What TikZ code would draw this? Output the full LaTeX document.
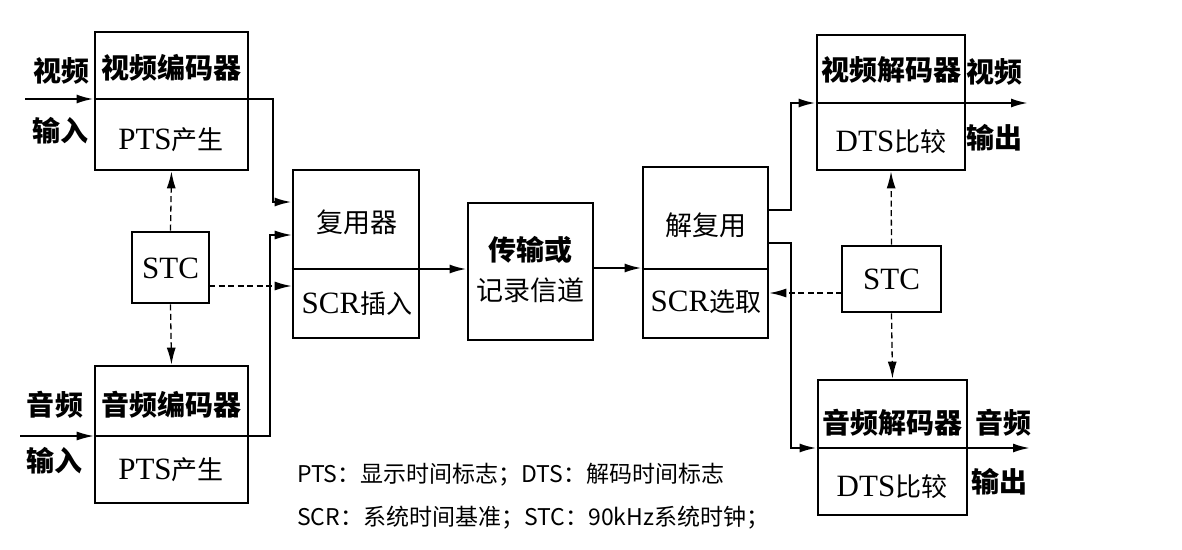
\documentclass[tikz,border=0pt]{standalone}
\usepackage{fontspec}
\setmainfont{Liberation Serif}
\newfontfamily\cjk{Noto Sans CJK SC}
\newfontfamily\lat{Liberation Serif}
\usetikzlibrary{arrows.meta}
\newcommand{\Lt}[1]{{\lat\fontsize{31}{31}\selectfont #1}}
\newcommand{\Ch}[1]{{\cjk\fontsize{26}{26}\selectfont #1}}
\begin{document}
\begin{tikzpicture}[x=1pt,y=-1pt,
  box/.style={draw,line width=2.8pt,inner sep=0pt},
  blbl/.style={font=\cjk\bfseries\fontsize{28}{30}\selectfont,inner sep=0pt},
  rlbl/.style={font=\cjk\fontsize{27}{30}\selectfont,inner sep=0pt},
  mlbl/.style={inner sep=0pt},
  arr/.style={line width=2.2pt,-{Latex[length=17pt,width=9pt]}},
  tarr/.style={line width=1.2pt,-{Latex[length=17pt,width=9pt]}},
  divline/.style={line width=2.2pt},
  dline/.style={line width=1.3pt,dash pattern=on 6pt off 3.5pt,-{Latex[length=17pt,width=9pt]}},
  leg/.style={font=\cjk\fontsize{23}{23}\selectfont,inner sep=0pt,anchor=west}]
\useasboundingbox (0,0) rectangle (1182,549);
% boxes
\node[box,minimum width=153pt,minimum height=138pt] (venc) at (171.5,101) {};
\node[box,minimum width=153pt,minimum height=137pt] (aenc) at (171.5,434.5) {};
\node[box,minimum width=77pt,minimum height=71pt] (stcL) at (170.5,267.5) {};
\node[box,minimum width=126pt,minimum height=168pt] (mux) at (356,254) {};
\node[box,minimum width=125pt,minimum height=137pt] (chan) at (530.5,271.5) {};
\node[box,minimum width=125pt,minimum height=171pt] (demux) at (705.5,252.5) {};
\node[box,minimum width=148pt,minimum height=135pt] (vdec) at (891,102.5) {};
\node[box,minimum width=149pt,minimum height=135pt] (adec) at (892.5,447.5) {};
\node[box,minimum width=99pt,minimum height=66pt] (stcR) at (891.5,279) {};
% labels in boxes
\node[blbl] (vencA) at (171,68) {视频编码器};
\node[mlbl] (vencB) at (171,140) {\Lt{PTS}\Ch{产生}};
\node[blbl] (aencA) at (171,405) {音频编码器};
\node[mlbl] (aencB) at (171,470) {\Lt{PTS}\Ch{产生}};
\node[mlbl] (stcLt) at (170.5,268) {\Lt{STC}};
\node[rlbl] (muxA) at (357,222) {复用器};
\node[mlbl] (muxB) at (357,304) {\Lt{SCR}\Ch{插入}};
\node[blbl] (chanA) at (530,250) {传输或};
\node[rlbl] (chanB) at (530,290) {记录信道};
\node[rlbl] (demuxA) at (706,225) {解复用};
\node[mlbl] (demuxB) at (706,302) {\Lt{SCR}\Ch{选取}};
\node[blbl] (vdecA) at (891,70) {视频解码器};
\node[mlbl] (vdecB) at (891,142) {\Lt{DTS}\Ch{比较}};
\node[blbl] (adecA) at (892,423) {音频解码器};
\node[mlbl] (adecB) at (892,487) {\Lt{DTS}\Ch{比较}};
\node[mlbl] (stcRt) at (891.5,279) {\Lt{STC}};
% side labels
\node[blbl] (vinA) at (61,71) {视频};
\node[blbl] (vinB) at (60,131) {输入};
\node[blbl] (ainA) at (55,405) {音频};
\node[blbl] (ainB) at (54,461) {输入};
\node[blbl] (voutA) at (994,72) {视频};
\node[blbl] (voutB) at (994,138) {输出};
\node[blbl] (aoutA) at (1003,423) {音频};
\node[blbl] (aoutB) at (999,482) {输出};
% coordinates
\coordinate (vin) at (25,99);
\coordinate (ain) at (20,436);
\coordinate (vj) at (273,202);
\coordinate (aj) at (270,235);
\coordinate (sl) at (209,286);
\coordinate (md) at (419,269);
\coordinate (cd) at (593,268);
\coordinate (d1) at (768,210);
\coordinate (d2) at (768,243);
\coordinate (vdj) at (791,103);
\coordinate (adj) at (791,448);
\coordinate (vout) at (1028,103);
\coordinate (aout) at (1030,448);
\coordinate (sr) at (842,293);
% dividers
\draw[divline] (vin -| venc.west) -- (vin -| venc.east);
\draw[divline] (ain -| aenc.west) -- (ain -| aenc.east);
\draw[divline] (md -| mux.west) -- (md);
\draw[divline] (md -| demux.west) -- (md -| demux.east);
\draw[divline] (vdj -| vdec.west) -- (vdj -| vdec.east);
\draw[divline] (adj -| adec.west) -- (adj -| adec.east);
% connectors
\draw[arr] (vin) -- (vin -| venc.west);
\draw[arr] (vin -| venc.east) -| (vj) -- (vj -| mux.west);
\draw[tarr] (ain) -- (ain -| aenc.west);
\draw[tarr] (ain -| aenc.east) -| (aj) -- (aj -| mux.west);
\draw[dline] (stcL.north) -- (venc.south);
\draw[dline] (stcL.south) -- (aenc.north);
\draw[dline] (sl) -- (sl -| mux.west);
\draw[arr] (md) -- (md -| chan.west);
\draw[arr] (cd) -- (cd -| demux.west);
\draw[arr] (d1) -| (vdj) -- (vdj -| vdec.west);
\draw[arr] (vdj -| vdec.east) -- (vout);
\draw[arr] (d2) -| (adj) -- (adj -| adec.west);
\draw[arr] (adj -| adec.east) -- (aout);
\draw[dline] (sr) -- (sr -| demux.east);
\draw[dline] (stcR.north) -- (vdec.south);
\draw[dline] (stcR.south) -- (adec.north);
% legend
\node[leg] (leg1) at (297,475) {PTS：显示时间标志；DTS：解码时间标志};
\node[leg] (leg2) at (297,518) {SCR：系统时间基准；STC：90kHz系统时钟；};
\end{tikzpicture}
\end{document}
